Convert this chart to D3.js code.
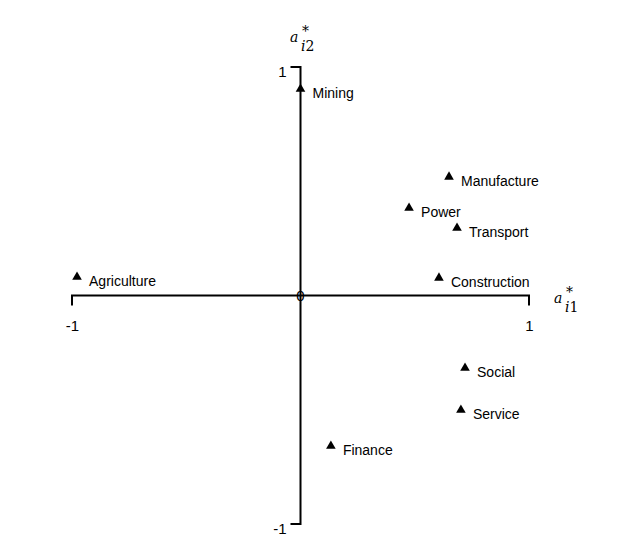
<!DOCTYPE html>
<html><head><meta charset="utf-8">
<script src="https://cdn.jsdelivr.net/npm/d3@7"></script>
<style>body{margin:0;background:#fff}</style>
</head><body>
<svg id="c" width="636" height="543"></svg>
<script>
const sectors = ["Mining","Agriculture","Manufacture","Power","Transport","Construction","Social","Service","Finance"];
const dim1 = [0.0, -0.978, 0.65, 0.475, 0.685, 0.606, 0.72, 0.702, 0.133];
const dim2 = [0.904, 0.081, 0.519, 0.383, 0.295, 0.077, -0.317, -0.501, -0.659];
const xTicks = [-1, 1];
const yTicks = [1, -1];

const svg = d3.select("#c");
const x = d3.scaleLinear().domain([-1,1]).range([72,529]);
const y = d3.scaleLinear().domain([-1,1]).range([524,67]);
const font = "'Liberation Sans', Arial, Helvetica, sans-serif";

// x axis (through origin)
const xAxis = d3.axisBottom(x).tickValues(xTicks).tickSize(10).tickPadding(15).tickFormat(d=>String(d));
const gx = svg.append("g").attr("transform",`translate(0,${y(0)})`).call(xAxis);
gx.select(".domain").attr("d",`M${x(-1)},10V0H${x(1)}V10`);
// y axis
const yAxis = d3.axisLeft(y).tickValues(yTicks).tickSize(10).tickPadding(4).tickFormat(d=>String(d));
const gy = svg.append("g").attr("transform",`translate(${x(0)},0)`).call(yAxis);
gy.select(".domain").attr("d",`M-10,${y(1)}H0V${y(-1)}H-10`);
svg.selectAll(".domain").attr("stroke","#000").attr("stroke-width",2).attr("fill","none");
svg.selectAll(".tick line").remove();
svg.selectAll(".tick text").attr("font-family",font).attr("font-size",15).attr("fill","#000");
gy.selectAll(".tick text").attr("dy","0.65em");

// origin label
svg.append("text").attr("x",x(0)).attr("y",y(0)+5).attr("text-anchor","middle")
  .attr("font-family",font).attr("font-size",15).text("0");

// axis titles
function title(tx, ty, sub){
  const t = svg.append("text").attr("x",tx).attr("y",ty).attr("font-family","'DejaVu Serif', serif")
    .attr("font-size",14);
  t.append("tspan").attr("font-style","italic").text("a");
  t.append("tspan").attr("x",tx+12).attr("dy",-6).attr("font-size",14).text("*");
  t.append("tspan").attr("x",tx+11).attr("dy",15).attr("font-style","italic").text("i");
  t.append("tspan").text(sub);
}
title(290, 42, "2");
title(554, 303, "1");

// points
const tri = d3.symbol().type(d3.symbolTriangle).size(40);
const pts = svg.append("g").selectAll("g").data(sectors).join("g")
  .attr("transform",(d,i)=>`translate(${x(dim1[i])},${y(dim2[i])})`);
pts.append("path").attr("d",tri).attr("fill","#000");
pts.append("text").attr("x",12).attr("y",9).attr("font-family",font).attr("font-size",14)
  .attr("fill","#000").text(d=>d);
</script>
</body></html>
